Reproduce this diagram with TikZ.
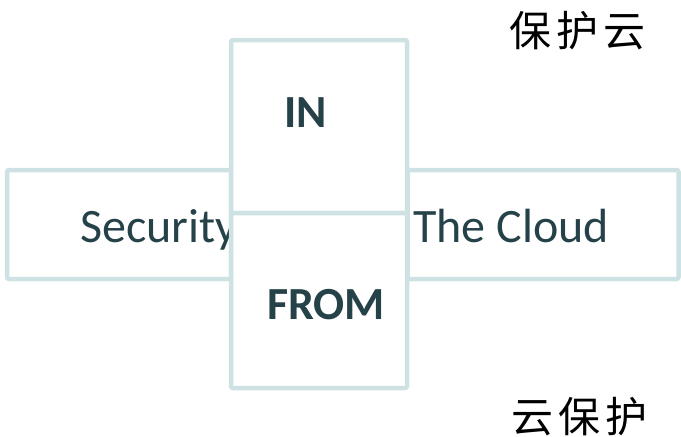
\documentclass[tikz,border=0pt]{standalone}
\usepackage{fontspec}
\setmainfont{Carlito}
\newfontfamily\cjk[LetterSpace=12]{Noto Sans CJK SC}
\definecolor{boxline}{RGB}{206,226,228}
\definecolor{txt}{RGB}{38,66,73}
\begin{document}
\begin{tikzpicture}[x=1pt,y=-1pt,
  framebox/.style={draw=boxline,line width=4.5pt,rounded corners=2pt,fill=white,inner sep=0pt},
  lbl/.style={text=txt,inner sep=0pt,font=\fontsize{48}{52}\selectfont},
  blbl/.style={text=txt,inner sep=0pt,font=\fontsize{46}{50}\selectfont\bfseries},
  cjklbl/.style={text=black,inner sep=0pt,font=\fontsize{42}{46}\selectfont\cjk}]
\useasboundingbox (0,0) rectangle (681,437);
% horizontal boxes
\node[framebox,minimum width=224pt,minimum height=109pt] (left) at (119,224.5) {};
\node[framebox,minimum width=271pt,minimum height=109pt] (right) at (543,224.5) {};
\node[lbl,anchor=base west] (sec) at (80,242) {Security};
\node[lbl,anchor=base west] (cloud) at (413,242) {The Cloud};
% vertical boxes
\node[framebox,minimum width=176pt,minimum height=173pt] (inbox) at (319,126.5) {};
\node[framebox,minimum width=176pt,minimum height=175pt] (frombox) at (319,300.5) {};
\node[blbl,anchor=base west] (in) at (284,127) {IN};
\node[blbl,anchor=base west] (from) at (267,319) {FROM};
% chinese labels
\node[cjklbl,anchor=west] (top) at (509,31) {保护云};
\node[cjklbl,anchor=west] (bot) at (511,417) {云保护};
\end{tikzpicture}
\end{document}
